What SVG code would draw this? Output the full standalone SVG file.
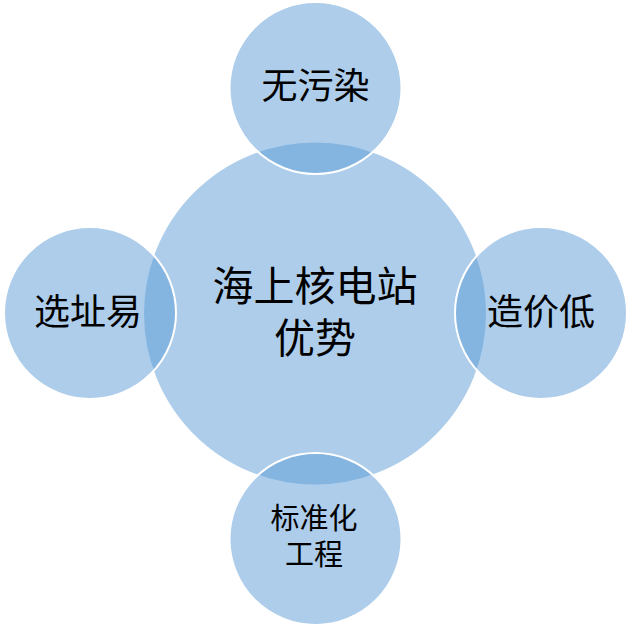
<svg xmlns="http://www.w3.org/2000/svg" width="631" height="627" viewBox="0 0 631 627">
<style>
.c{fill:#5B9BD5;fill-opacity:0.5;stroke:#FFFFFF;stroke-width:2}
text{font-family:"Liberation Serif","Noto Sans CJK SC",serif;fill:#000;text-anchor:middle;dominant-baseline:central}
.l{font-size:36px}
.m{font-size:41px}
.s{font-size:29px}
</style>
<rect width="631" height="627" fill="#FFFFFF"/>
<g id="center"><circle class="c" cx="315" cy="313.5" r="172"/>
<text class="m" x="315" y="287">海上核电站</text><text class="m" x="315" y="339">优势</text></g>
<g id="top"><circle class="c" cx="315.5" cy="88" r="86"/><text class="l" x="315.5" y="87">无污染</text></g>
<g id="left"><circle class="c" cx="90" cy="313" r="86"/><text class="l" x="88" y="313">选址易</text></g>
<g id="right"><circle class="c" cx="541" cy="313" r="86"/><text class="l" x="541" y="313">造价低</text></g>
<g id="bottom"><circle class="c" cx="315.5" cy="539" r="86"/><text class="s" x="314" y="519">标准化</text><text class="s" x="314" y="555">工程</text></g>
<g id="connectors"/>
</svg>
